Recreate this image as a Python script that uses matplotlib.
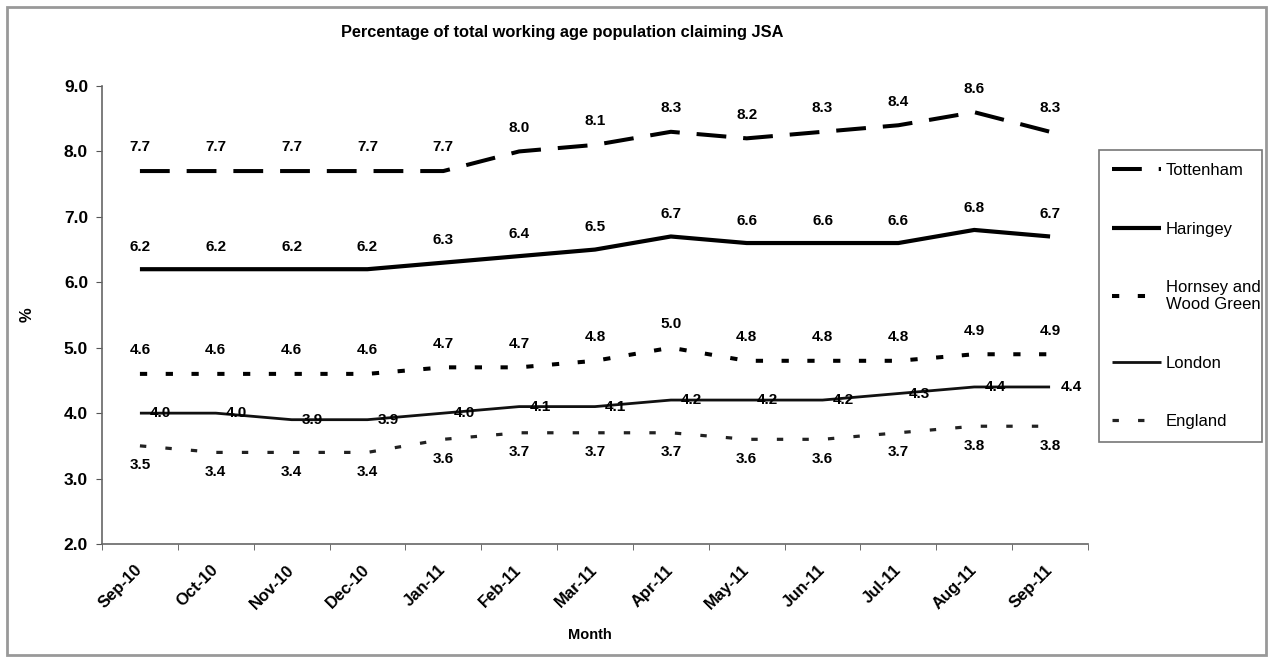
import matplotlib
matplotlib.use("Agg")
import matplotlib.pyplot as plt
from matplotlib.patches import Rectangle
import numpy as np

plt.rcParams['font.family'] = ['Liberation Sans', 'DejaVu Sans']

months = ["Sep-10", "Oct-10", "Nov-10", "Dec-10", "Jan-11", "Feb-11", "Mar-11",
          "Apr-11", "May-11", "Jun-11", "Jul-11", "Aug-11", "Sep-11"]
tottenham = [7.7, 7.7, 7.7, 7.7, 7.7, 8.0, 8.1, 8.3, 8.2, 8.3, 8.4, 8.6, 8.3]
haringey = [6.2, 6.2, 6.2, 6.2, 6.3, 6.4, 6.5, 6.7, 6.6, 6.6, 6.6, 6.8, 6.7]
hornsey = [4.6, 4.6, 4.6, 4.6, 4.7, 4.7, 4.8, 5.0, 4.8, 4.8, 4.8, 4.9, 4.9]
london = [4.0, 4.0, 3.9, 3.9, 4.0, 4.1, 4.1, 4.2, 4.2, 4.2, 4.3, 4.4, 4.4]
england = [3.5, 3.4, 3.4, 3.4, 3.6, 3.7, 3.7, 3.7, 3.6, 3.6, 3.7, 3.8, 3.8]
yticks = [2.0, 3.0, 4.0, 5.0, 6.0, 7.0, 8.0, 9.0]

W, H = 1269, 659
fig = plt.figure(figsize=(W / 100, H / 100), dpi=100)
ax = fig.add_axes([102 / W, 1 - 544 / H, (1088 - 102) / W, (544 - 86) / H])

x = np.arange(len(months))

series = [
    ("Tottenham", tottenham, dict(lw=2.9, dashes=(7.4, 4.2), color='black'), (0, 12), 'bottom'),
    ("Haringey", haringey, dict(lw=3.0, color='black'), (0, 11), 'bottom'),
    ("Hornsey and\nWood Green", hornsey, dict(lw=2.9, dashes=(1.8, 4.6), color='black'), (0, 12), 'bottom'),
    ("London", london, dict(lw=2.0, color='#111111'), (15, 0), 'center'),
    ("England", england, dict(lw=2.3, dashes=(2.0, 6.0), color='#222222'), (0, -9), 'top'),
]

handles = []
for name, vals, style, off, va in series:
    ln, = ax.plot(x, vals, label=name, solid_capstyle='butt', dash_capstyle='butt', **style)
    handles.append(ln)
    for xi, v in zip(x, vals):
        ax.annotate(f"{v:.1f}", (xi, v), xytext=off, textcoords='offset points',
                    ha='center', va=va, fontsize=11, fontweight='bold', color='black')

ax.set_xlim(-0.5, len(months) - 0.5)
ax.set_ylim(2.0, 9.0)
ax.set_yticks(yticks)
ax.set_yticklabels([f"{t:.1f}" for t in yticks], fontsize=12.5, fontweight='bold')
ax.set_xticks(x)
ax.set_xticklabels(months, rotation=45, ha='right', va='center', rotation_mode='anchor',
                   fontsize=12, fontweight='bold')
ax.set_xticks(np.arange(-0.5, len(months), 1), minor=True)
ax.tick_params(axis='x', which='major', length=0, pad=17)
ax.tick_params(axis='x', which='minor', length=4, direction='out', color='#555555')
ax.tick_params(axis='y', which='major', length=4, direction='out', color='#555555', pad=6)

for s in ['top', 'right']:
    ax.spines[s].set_visible(False)
for s in ['left', 'bottom']:
    ax.spines[s].set_color('#666666')
    ax.spines[s].set_linewidth(1.2)

ax.set_xlabel("Month", fontsize=10.5, fontweight='bold')
ax.xaxis.set_label_coords((590 - 102) / 986, -(635 - 544) / 458)
ax.xaxis.label.set_va('center')
ax.set_ylabel("%", fontsize=12, fontweight='bold')
ax.yaxis.set_label_coords((27 - 102) / 986, (544 - 315) / 458)
ax.yaxis.label.set_va('center')

fig.text(562 / W, 1 - 33 / H, "Percentage of total working age population claiming JSA",
         ha='center', va='center', fontsize=11.8, fontweight='bold')

leg = ax.legend(handles=handles, loc='upper left',
                bbox_to_anchor=(1099 / W, 1 - 460 / H, (1262 - 1099) / W, (460 - 150) / H),
                bbox_transform=fig.transFigure, mode='expand', borderaxespad=0,
                fontsize=12, frameon=True, fancybox=False, handlelength=2.9,
                handletextpad=0.3, labelspacing=2.6, borderpad=0.8)
leg.get_frame().set_edgecolor('#555555')
leg.get_frame().set_linewidth(1.2)

fig.patches.append(Rectangle((7 / W, 4 / H), (1266 - 7) / W, (652 - 4) / H,
                             transform=fig.transFigure, fill=False,
                             edgecolor='#999999', linewidth=2))

fig.savefig("out.png", dpi=100)
